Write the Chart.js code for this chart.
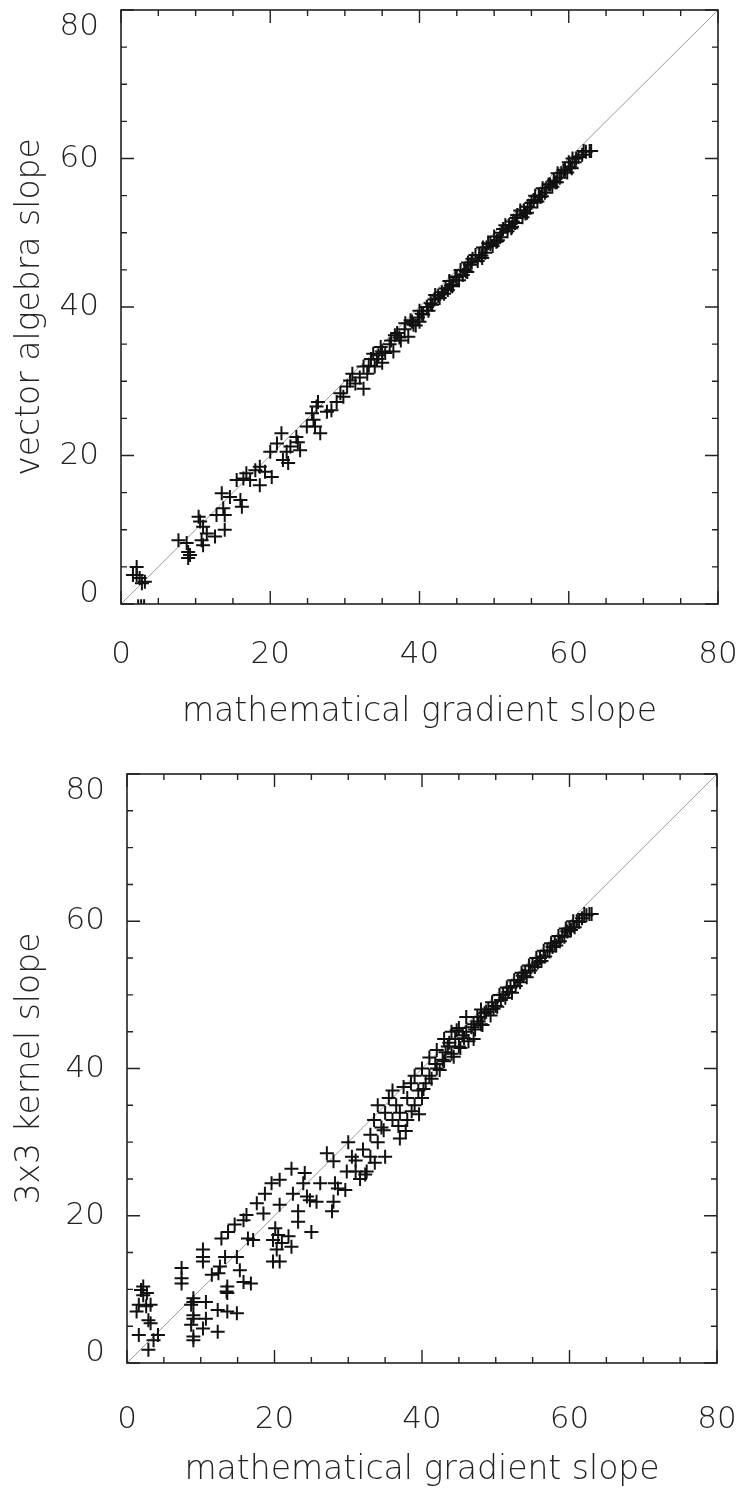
<!DOCTYPE html>
<html>
<head>
<meta charset="utf-8">
<script src="https://cdn.jsdelivr.net/npm/chart.js@4.4.1/dist/chart.umd.min.js"></script>
<style>
  body { margin: 0; background: #fff; }
  canvas { position: absolute; left: 0; }
  #chart1 { top: 0; }
  #chart2 { top: 740px; }
</style>
</head>
<body>
<canvas id="chart1" width="741" height="740"></canvas>
<canvas id="chart2" width="741" height="751"></canvas>
<script>
var tickLabels = [0, 20, 40, 60, 80];
var xTitle = 'mathematical gradient slope';
var yTitleTop = 'vector algebra slope';
var yTitleBottom = '3x3 kernel slope';
var diagonal = [0, 80];

// top panel: mathematical gradient vs vector algebra
var vecX = [1.6, 2.1, 2.1, 2.5, 2.8, 3.2, 2.3, 2.7, 3.1,
  7.7, 8.8, 9.0, 9.0, 9.25,
  10.4, 10.6, 11.0, 10.8, 11.0, 11.5, 12.6, 12.8, 13.9, 13.9, 13.7, 16.0, 16.2,
  13.5, 14.6, 15.5, 16.4, 17.3, 18.6, 16.8, 18.0, 18.6, 20.2, 19.3, 20.0, 20.9, 21.5,
  21.7, 22.4, 22.2, 22.7, 23.5, 24.0, 23.7, 24.9, 25.6, 25.8, 26.2, 26.7, 26.0, 26.4,
  27.6, 28.2, 28.9, 29.4, 29.8, 30.3, 30.7, 31.4, 32.5,
  31, 32, 32.5, 33, 33.5, 34, 34.5, 35, 35, 36, 36.5, 37, 37.5, 38, 38.5, 39, 39.5,
  40, 40, 40.5, 41, 41.5, 42, 42.5, 43, 43.5, 44, 44.5, 45, 45.5, 46, 46.5, 47, 47.5,
  48, 48.5, 49, 49.5, 50, 50.5, 51, 51.5, 52, 52.5, 53, 53.5, 54, 54.5, 55, 55.5, 56,
  56.5, 57, 57.5, 58, 58.5, 59, 59.5, 60, 60.5, 61, 62, 63,
  33.2, 34.3, 35.4, 36.2, 37.3, 38.1, 39.2, 40.3, 41.2, 42.1, 43.3, 44.2, 44.8, 45.3,
  46.2, 47.1, 48.3, 49.2, 50.3, 51.2, 52.3, 53.1, 54.2, 55.3, 56.2, 57.3, 58.2, 59.3,
  60.2, 61.3, 62.3,
  41.7, 42.7, 43.8, 45.8, 46.8, 47.8, 48.8, 49.8, 50.8, 51.8, 52.8, 53.8, 54.8, 55.8,
  56.8, 57.8, 58.8, 59.8, 60.8, 61.8, 62.8, 36.7, 38.8, 39.8, 34.8, 33.8,
  44.4, 46.4, 48.4, 50.4, 52.4, 54.4, 56.4, 58.4, 60.4];
var vecY = [3.9, 5.0, 3.9, 3.5, 2.8, 3.0, -0.3, -0.3, -0.3,
  8.6, 8.2, 7.0, 6.2, 6.6,
  11.75, 11.1, 10.4, 8.6, 7.9, 9.5, 9.1, 12.0, 12.0, 10.0, 12.9, 14.0, 13.1,
  14.9, 14.4, 16.7, 16.9, 16.7, 16.0, 17.6, 18.0, 18.5, 17.1, 17.8, 20.5, 21.6, 23.0,
  19.4, 19.0, 20.5, 21.2, 22.5, 20.7, 21.8, 23.9, 25.7, 24.8, 26.6, 23.0, 23.9, 27.2,
  25.9, 26.1, 27.2, 28.4, 27.9, 29.3, 30.1, 29.7, 29.0,
  31, 30.5, 32, 31, 33, 32, 33.5, 34, 32.5, 35, 34, 36.5, 35.5, 37, 36, 38, 37.5,
  39.5, 38, 39, 40, 40.5, 41, 41.5, 42, 42.5, 43.5, 43, 44, 45, 45, 46, 46, 47,
  47, 48, 48, 48.5, 49.5, 49, 50, 51, 51, 51.5, 52, 53, 53, 53.5, 54, 55, 55,
  56, 56, 56.5, 57, 58, 58, 58.5, 59.5, 60, 60, 61, 61,
  32.1, 33.0, 33.8, 35.5, 35.9, 37.8, 37.6, 39.1, 39.5, 41.6, 41.8, 42.9, 44.1, 43.6,
  44.8, 46.5, 46.9, 48.6, 48.8, 50.5, 50.6, 52.4, 52.6, 54.4, 54.8, 56.5, 56.8, 58.4,
  58.9, 60.2, 60.9,
  40.3, 41.2, 42.3, 44.3, 45.7, 46.2, 47.3, 48.2, 49.4, 50.2, 51.3, 52.1, 53.4, 54.2,
  55.4, 56.2, 57.4, 58.1, 59.5, 60.5, 61.0, 36.2, 38.2, 38.6, 34.6, 33.7,
  42.8, 44.7, 46.6, 48.9, 50.8, 52.7, 54.9, 56.8, 58.7];

// bottom panel: mathematical gradient vs 3x3 kernel
var kernX = [1.9, 2.2, 2.2, 2.7, 1.6, 2.6, 3.2, 1.3, 2.9, 3.2, 1.6, 4.2, 3.6, 2.9,
  7.4, 7.4, 7.4, 9.0, 9.0, 8.7, 10.7, 12.3, 13.6, 14.9, 9.0, 9.0, 10.7, 8.7, 10.3, 12.3,
  9.0, 9.0, 13.6, 13.6, 16.8,
  10.3, 10.3, 10.3, 11.5, 12.4, 12.6, 13.3, 13.5, 12.8, 13.7, 14.6, 14.9, 15.3, 15.8,
  15.8, 16.2, 16.4, 17.1, 17.6, 18.5, 18.7, 19.6, 20.7, 20.7, 20.1, 20.5, 19.8, 21.0,
  20.3, 20.7, 19.8, 22.3, 21.9, 22.3, 22.5, 23.2, 23.2, 23.9, 24.4, 24.1, 25.0, 24.8,
  25.7, 26.2, 27.1, 27.8, 28.0, 28.0, 28.2, 28.6, 29.6, 29.8,
  30, 30.5, 31, 31, 32, 32.5, 33, 33, 33.5, 34, 34, 34.5, 35, 35, 35.5, 36, 36, 36.5,
  37, 37, 37.5, 38, 38, 38.5, 39, 39, 39.5, 40, 40, 40.5, 41, 41, 42, 42, 43, 43, 43.5,
  44, 44, 44.5, 45, 45, 45.5, 46, 46, 47, 47, 47.5, 48, 48, 48.5, 49, 49.5, 50, 50.5,
  51, 51.5, 52, 52.5, 53, 53.5, 54, 54.5, 55, 55.5, 56, 56.5, 57, 57.5, 58, 58.5, 59,
  59.5, 60, 60.5, 61, 62, 63,
  40.2, 41.3, 42.4, 43.2, 44.3, 45.2, 46.3, 47.2, 48.2, 49.3, 50.2, 51.3, 52.2, 53.3,
  54.2, 55.3, 56.2, 57.3, 58.2, 59.3, 60.2, 61.3, 62.3, 36.8, 37.8, 38.6, 39.6, 34.8,
  33.6, 32.3, 31.6,
  44.7, 45.7, 46.7, 47.7, 48.7, 49.7, 50.7, 51.7, 52.7, 53.7, 54.7, 55.7, 56.7, 57.7,
  58.7, 59.7, 60.7, 61.7, 62.7, 42.8, 43.7, 41.8];
var kernY = [9.9, 9.2, 10.4, 9.5, 7.9, 7.7, 7.9, 7.0, 5.8, 5.4, 3.8, 3.8, 3.1, 1.8,
  10.8, 12.9, 11.5, 8.8, 8.3, 7.9, 8.3, 7.2, 7.0, 6.75, 6.5, 6.0, 6.0, 5.2, 4.7, 4.25,
  3.6, 3.1, 10.4, 9.5, 10.8,
  15.4, 14.4, 13.8, 12.0, 12.2, 13.1, 14.4, 9.7, 16.9, 17.8, 18.8, 14.4, 12.6, 11.0,
  19.4, 20.1, 16.9, 16.7, 21.7, 20.3, 23.0, 24.4, 24.9, 21.5, 18.3, 17.4, 16.7, 16.3,
  15.4, 13.8, 13.8, 15.8, 17.2, 26.4, 23.0, 20.6, 19.2, 24.4, 22.6, 25.8, 17.8, 22.1,
  21.9, 24.4, 28.5, 20.6, 21.9, 27.4, 24.4, 23.7, 23.5, 26.0,
  30, 28, 26, 27.5, 29, 26, 28, 31, 33, 30, 35, 32, 34, 28, 36, 33, 37, 35,
  30.5, 34, 37.5, 36, 33, 38, 35, 39, 37, 36, 40, 38, 41.5, 39, 40, 42.5, 41, 44, 43,
  42, 45, 44, 43, 45.5, 44.5, 45, 47, 46, 44, 47, 46, 48, 47.5, 48, 49, 48.5, 50,
  50, 51, 51, 52, 52, 53, 53, 54, 54, 55, 55, 56, 56, 57, 57, 58, 58,
  59, 59, 60, 60, 61, 61,
  37.2, 38.6, 39.8, 42.2, 41.6, 42.8, 43.7, 45.3, 45.9, 47.2, 48.4, 49.6, 50.3, 51.7,
  52.4, 53.8, 54.6, 55.9, 56.7, 57.9, 58.8, 59.9, 60.8, 32.2, 31.5, 34.2, 33.8, 31.6,
  27.2, 25.6, 25.0,
  45.2, 44.1, 45.6, 46.4, 47.7, 48.1, 49.3, 50.4, 51.2, 52.6, 53.3, 54.4, 55.2, 56.5,
  57.3, 58.6, 59.2, 60.4, 61.0, 41.2, 43.5, 40.6];

function toPoints(xs, ys) {
  return xs.map(function (x, i) { return { x: x, y: ys[i] }; });
}

// frame with inward IDL-style ticks on all four sides
var framePlugin = {
  id: 'frame',
  afterDatasetsDraw: function (chart) {
    var ctx = chart.ctx, a = chart.chartArea;
    var xs = chart.scales.x, ys = chart.scales.y;
    ctx.save();
    ctx.strokeStyle = '#222';
    ctx.lineWidth = 1.6;
    ctx.strokeRect(a.left, a.top, a.right - a.left, a.bottom - a.top);
    ctx.lineWidth = 1.4;
    ctx.beginPath();
    for (var v = 0; v <= 80; v += 5) {
      var len = (v % 20 === 0) ? 13 : 6;
      var px = xs.getPixelForValue(v);
      var py = ys.getPixelForValue(v);
      ctx.moveTo(px, a.bottom); ctx.lineTo(px, a.bottom - len);
      ctx.moveTo(px, a.top); ctx.lineTo(px, a.top + len);
      ctx.moveTo(a.left, py); ctx.lineTo(a.left + len, py);
      ctx.moveTo(a.right, py); ctx.lineTo(a.right - len, py);
    }
    ctx.stroke();
    ctx.restore();
  }
};

var labelFont = { family: 'DejaVu Sans', size: 31, weight: '200' };
var titleFont = { family: 'DejaVu Sans', size: 33, weight: '200' };

// end labels of the y axis sit inside the frame, as in the original
function yLabel(v) {
  if (v === 80) return ['', '80'];
  if (v === 0) return ['0', ''];
  return String(v);
}
function yFont(c) {
  var v = c.tick ? c.tick.value : 40;
  var lh = v === 80 ? '34px' : (v === 0 ? '21px' : 1.2);
  return { family: 'DejaVu Sans', size: 31, weight: '200', lineHeight: lh };
}

function makeChart(id, xs, ys, yTitle, yWidth, xHeight, pad, tickPad, titlePad) {
  var ctx = document.getElementById(id).getContext('2d');
  return new Chart(ctx, {
    type: 'scatter',
    data: {
      datasets: [{
        type: 'line',
        data: toPoints(diagonal, diagonal),
        borderColor: '#999',
        borderWidth: 1,
        pointRadius: 0,
        order: 2
      }, {
        data: toPoints(xs, ys),
        pointStyle: 'cross',
        pointRadius: 7,
        borderWidth: 2,
        borderColor: '#111',
        backgroundColor: '#111',
        clip: 0,
        order: 1
      }]
    },
    options: {
      responsive: false,
      animation: false,
      devicePixelRatio: 1,
      layout: { padding: pad },
      plugins: { legend: { display: false }, tooltip: { enabled: false } },
      scales: {
        x: {
          type: 'linear', min: 0, max: 80,
          grid: { display: false },
          border: { display: false },
          afterBuildTicks: function (s) { s.ticks = tickLabels.map(function (v) { return { value: v }; }); },
          afterFit: function (s) { s.height = xHeight; s.paddingLeft = 0; s.paddingRight = 0; },
          ticks: { padding: tickPad, color: '#222', font: labelFont },
          title: { display: true, text: xTitle, color: '#222', padding: { top: 0, bottom: titlePad },
            font: titleFont }
        },
        y: {
          type: 'linear', min: 0, max: 80,
          grid: { display: false },
          border: { display: false },
          afterBuildTicks: function (s) { s.ticks = tickLabels.map(function (v) { return { value: v }; }); },
          afterFit: function (s) { s.width = yWidth; s.paddingTop = 0; s.paddingBottom = 0; },
          ticks: { padding: 14, color: '#222', font: yFont, callback: yLabel },
          title: { display: true, text: yTitle, color: '#222', padding: { top: 11, bottom: 0 },
            font: titleFont }
        }
      }
    },
    plugins: [framePlugin]
  });
}

makeChart('chart1', vecX, vecY, yTitleTop, 121, 136,
  { top: 10, right: 23, bottom: 0, left: 0 }, 24, 8);
makeChart('chart2', kernX, kernY, yTitleBottom, 127, 128,
  { top: 34, right: 24, bottom: 0, left: 0 }, 30, 1);
</script>
</body>
</html>
